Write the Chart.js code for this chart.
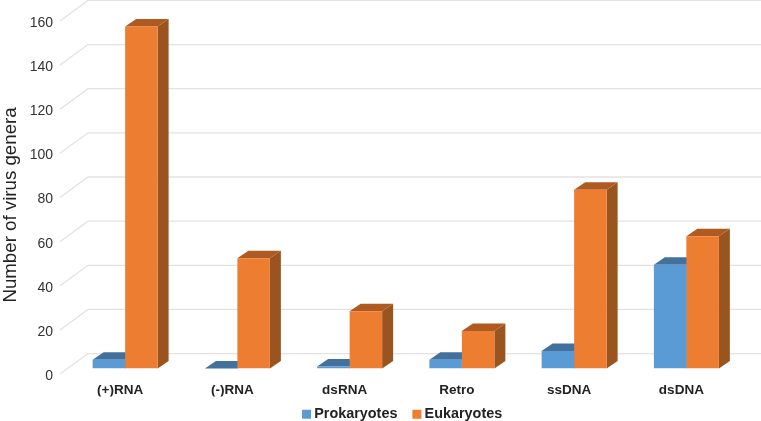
<!DOCTYPE html>
<html>
<head>
<meta charset="utf-8">
<style>body{margin:0;background:#fff}canvas{display:block}</style>
<script src="https://cdn.jsdelivr.net/npm/chart.js@4"></script>
</head>
<body>
<canvas id="chart" width="761" height="421"></canvas>
<script>
const categories = ["(+)RNA", "(-)RNA", "dsRNA", "Retro", "ssDNA", "dsDNA"];
const prokaryotes = [4, 0, 1, 4, 8, 47];
const eukaryotes = [155, 50, 26, 17, 81, 60];

const font = "'Liberation Sans', Arial, sans-serif";
const depthX = 11, depthY = 7.5;

// fake 3D: side and top faces go down first, bar fronts cover them afterwards
const faces = {
  id: "faces",
  beforeDatasetsDraw(chart) {
    const c = chart.ctx;
    for (let i = chart.data.datasets.length - 1; i >= 0; i--) {
      const ds = chart.data.datasets[i];
      chart.getDatasetMeta(i).data.forEach(bar => {
        const l = bar.x - bar.width / 2, r = bar.x + bar.width / 2;
        c.fillStyle = ds.sideColor;
        c.beginPath();
        c.moveTo(r, bar.y);
        c.lineTo(r + depthX, bar.y - depthY);
        c.lineTo(r + depthX, bar.base - depthY);
        c.lineTo(r, bar.base);
        c.closePath();
        c.fill();
        c.fillStyle = ds.topColor;
        c.beginPath();
        c.moveTo(l, bar.y);
        c.lineTo(l + depthX, bar.y - depthY);
        c.lineTo(r + depthX, bar.y - depthY);
        c.lineTo(r, bar.y);
        c.closePath();
        c.fill();
      });
    }
  }
};

// back wall grid with the little floor leg on the left
const wall = {
  id: "wall",
  beforeDatasetsDraw(chart) {
    const c = chart.ctx, y = chart.scales.y;
    c.strokeStyle = "#e2e2e2";
    c.lineWidth = 1.3;
    y.ticks.forEach(t => {
      const py = y.getPixelForValue(t.value);
      c.beginPath();
      c.moveTo(60, py + 5.5);
      c.lineTo(88, py - 15);
      c.lineTo(761, py - 15);
      c.stroke();
    });
  }
};

// legend padding also sets the gap between items, so pull the box up after layout
const legendNudge = {
  id: "legendNudge",
  afterLayout(chart) {
    chart.legend.top = 388;
    chart.legend.left -= 3.3;
  }
};

new Chart(document.getElementById("chart"), {
  type: "bar",
  data: {
    labels: categories,
    datasets: [
      { label: "Prokaryotes", data: prokaryotes, backgroundColor: "#5B9BD5", sideColor: "#41719C", topColor: "#41719C" },
      { label: "Eukaryotes", data: eukaryotes, backgroundColor: "#ED7D31", sideColor: "#9A5420", topColor: "#AE5A21" }
    ]
  },
  options: {
    responsive: false,
    animation: false,
    layout: { padding: { top: 0, right: 18.5, left: 0, bottom: -19 } },
    datasets: { bar: { categoryPercentage: 0.579, barPercentage: 1 } },
    plugins: {
      tooltip: { enabled: false },
      legend: {
        position: "bottom",
        fullSize: false,
        labels: {
          usePointStyle: true, pointStyle: "rect",
          boxWidth: 1, boxHeight: 9, padding: 19, color: "#222",
          font: { family: font, size: 14.4, weight: "bold" }
        }
      }
    },
    scales: {
      x: {
        afterFit: s => { s.height = 28; },
        grid: { display: false },
        border: { display: false },
        ticks: { labelOffset: -5, padding: 5.5, maxRotation: 0, color: "#222", font: { family: font, size: 13.5, weight: "bold" } }
      },
      y: {
        min: 0,
        max: 160,
        afterFit: s => { s.width = 69; },
        grid: { display: false, drawTicks: true, tickLength: 9 },
        border: { display: false },
        title: { display: true, text: "Number of virus genera     ", color: "#222", padding: 0, font: { family: font, size: 18.7 } },
        ticks: { stepSize: 20, labelOffset: 7.5, padding: 7, color: "#333", font: { family: font, size: 14 } }
      }
    }
  },
  plugins: [wall, faces, legendNudge]
});
</script>
</body>
</html>
